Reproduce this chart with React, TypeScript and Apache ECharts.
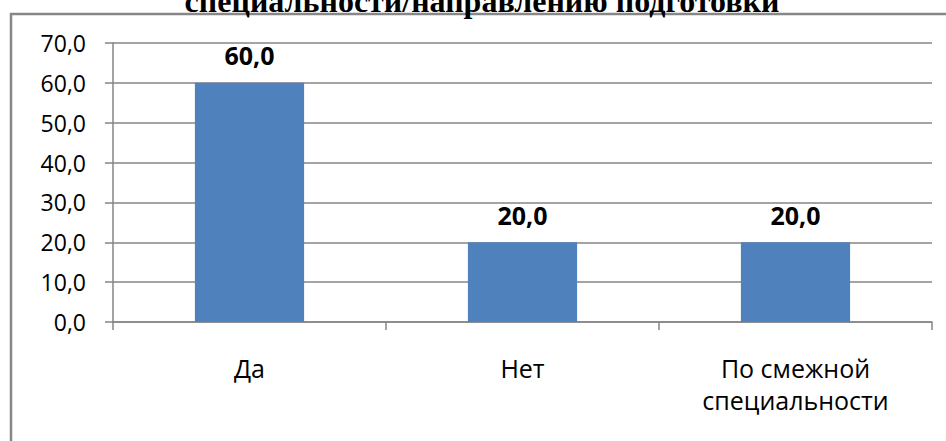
import React, { useEffect, useRef } from "react";
import * as echarts from "echarts";

const categories = ["Да", "Нет", "По смежной\nспециальности"];
const values = [60.0, 20.0, 20.0];
const yTicks = { min: 0, max: 70, interval: 10 };
const titleText = "специальности/направлению подготовки";

export default function App() {
  const ref = useRef<HTMLDivElement>(null);
  useEffect(() => {
    if (!ref.current) return;
    const chart = echarts.init(ref.current, undefined, { renderer: "svg" });
    const fmt = (v: number) => v.toFixed(1).replace(".", ",");
    chart.setOption({
      animation: false,
      backgroundColor: "#ffffff",
      graphic: [
        {
          type: "rect",
          shape: { x: 11, y: 14, width: 960, height: 460 },
          style: { fill: "none", stroke: "#878787", lineWidth: 2.5 },
          silent: true,
        },
        {
          type: "text",
          x: 482,
          y: 17,
          style: {
            text: titleText,
            fontFamily: "Liberation Serif",
            fontWeight: "bold",
            fontSize: 32,
            fill: "#000",
            align: "center",
            verticalAlign: "bottom",
          },
        },
      ],
      grid: { left: 113, right: 14, top: 43, bottom: 119, containLabel: false },
      xAxis: {
        type: "category",
        data: categories,
        axisLine: { lineStyle: { color: "#868686", width: 1.5 } },
        axisTick: { show: true, length: 8, lineStyle: { color: "#868686", width: 1.5 } },
        axisLabel: {
          fontFamily: "Open Sans",
          fontSize: 25,
          color: "#000",
          margin: 30,
          lineHeight: 32,
          interval: 0,
        },
      },
      yAxis: {
        type: "value",
        min: yTicks.min,
        max: yTicks.max,
        interval: yTicks.interval,
        axisLine: { show: true, lineStyle: { color: "#868686", width: 1.5 } },
        axisTick: { show: true, length: 8, lineStyle: { color: "#868686", width: 1.5 } },
        splitLine: { lineStyle: { color: "#868686", width: 1.5 } },
        axisLabel: {
          fontFamily: "Open Sans",
          fontSize: 23,
          color: "#000",
          margin: 27,
          formatter: (v: number) => fmt(v),
        },
      },
      series: [
        {
          type: "bar",
          data: values,
          barWidth: "40%",
          itemStyle: { color: "#4F81BD" },
          label: {
            show: true,
            position: "top",
            distance: 15,
            fontFamily: "Open Sans",
            fontWeight: "bold",
            fontSize: 25,
            color: "#000",
            formatter: (p: any) => fmt(p.value),
          },
        },
      ],
    });
    return () => chart.dispose();
  }, []);
  return (
    <div
      ref={ref}
      style={{ position: "fixed", left: 0, top: 0, width: 946, height: 441 }}
    />
  );
}
